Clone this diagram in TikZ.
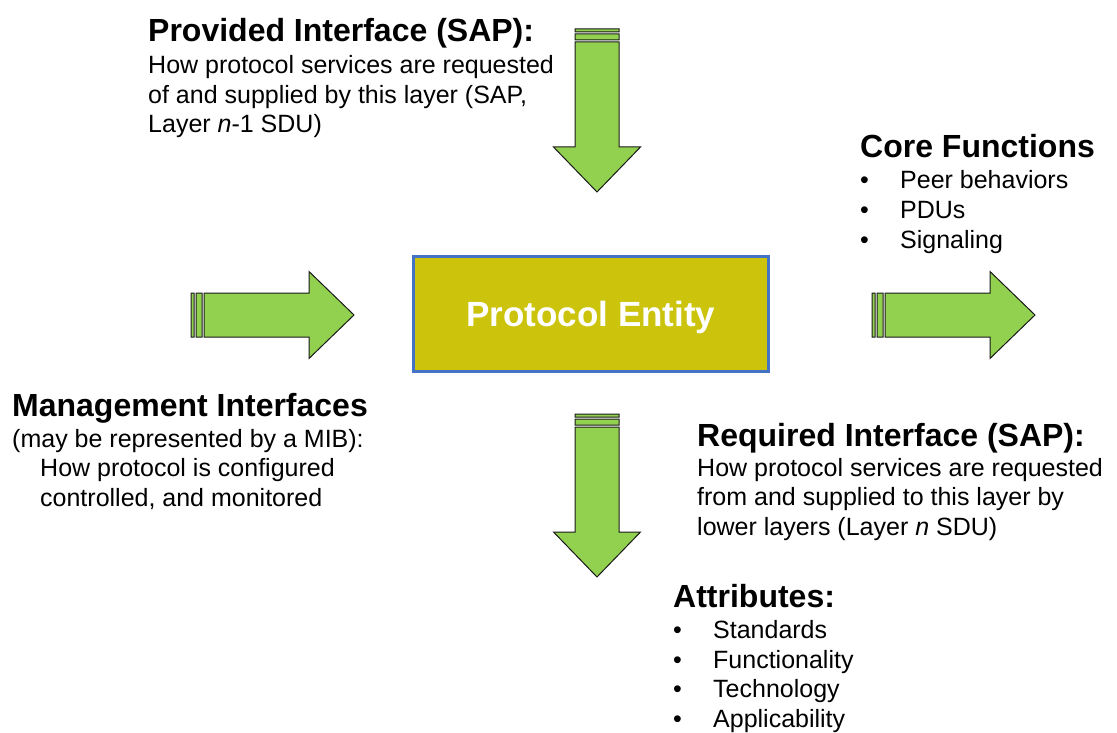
\documentclass[tikz,border=0pt]{standalone}
\usepackage{fontspec}
\setmainfont{Liberation Sans}
\definecolor{arrowgreen}{HTML}{92D050}
\definecolor{arrowline}{HTML}{1A1A1A}
\definecolor{entityfill}{HTML}{CBC30C}
\definecolor{entityline}{HTML}{4472C4}
\newcommand{\itm}[1]{\makebox[40pt][l]{\textbullet}#1}

\begin{document}
\begin{tikzpicture}[
  x=1pt, y=-1pt,
  titletext/.style={anchor=base west, inner sep=0pt, font=\bfseries\fontsize{32}{36}\selectfont},
  bodytext/.style={anchor=north west, inner sep=0pt, align=left, font=\fontsize{25}{29.5}\selectfont},
  entity/.style={draw=entityline, fill=entityfill, line width=3pt, minimum width=355pt,
    minimum height=115pt, text depth=0pt, text=white, font=\bfseries\fontsize{35}{40}\selectfont},
  pics/fatarrow/.style={code={
    \filldraw[fill=arrowgreen, draw=arrowline, line width=1pt]
      (0,-22) rectangle (3,22)
      (5,-22) rectangle (11,22)
      (13,-22) -- (118,-22) -- (118,-43.5) -- (163,0) -- (118,43.5) -- (118,22) -- (13,22) -- cycle;
  }}
]
\useasboundingbox (0,0) rectangle (1117,733);

% centre box
\node[entity] (entity) at (591,314) {Protocol Entity};

% arrows
\pic[rotate=-90] at (597,29) {fatarrow};
\pic at (191,315) {fatarrow};
\pic at (872,315) {fatarrow};
\pic[rotate=-90] at (597,414) {fatarrow};

% texts
\node[titletext] (provT) at (148,41.7) {Provided Interface (SAP):};
\node[bodytext] (provB) at (148,55.5) {How protocol services are requested\\
  of and supplied by this layer (SAP,\\Layer \textit{n}-1 SDU)};

\node[titletext] (coreT) at (860,157.3) {Core Functions};
\node[bodytext, font=\fontsize{25}{30}\selectfont] (coreB) at (860,170.3)
  {\itm{Peer behaviors}\\\itm{PDUs}\\\itm{Signaling}};

\node[titletext] (mgmtT) at (12,416.7) {Management Interfaces};
\node[bodytext] (mgmtB) at (12,428.7) {(may be represented by a MIB):\\
  \hspace*{28pt}How protocol is configured\\\hspace*{28pt}controlled, and monitored};

\node[titletext] (reqT) at (697,446.7) {Required Interface (SAP):};
\node[bodytext] (reqB) at (697,457.7) {How protocol services are requested\\
  from and supplied to this layer by\\lower layers (Layer \textit{n} SDU)};

\node[titletext] (attrT) at (673,607.3) {Attributes:};
\node[bodytext] (attrB) at (673,620.3)
  {\itm{Standards}\\\itm{Functionality}\\\itm{Technology}\\\itm{Applicability}};
\end{tikzpicture}
\end{document}
